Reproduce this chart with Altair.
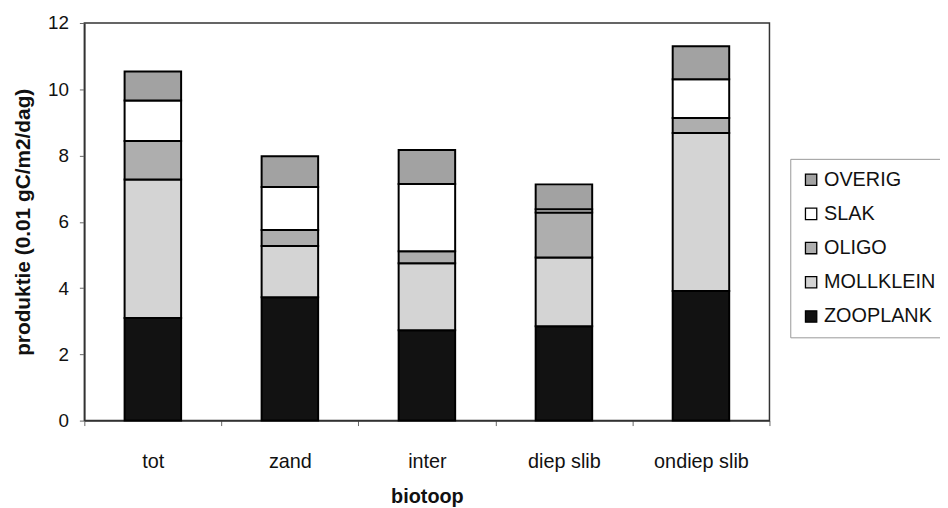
import altair as alt
import pandas as pd

biotopes = ["tot", "zand", "inter", "diep slib", "ondiep slib"]
groups = ["ZOOPLANK", "MOLLKLEIN", "OLIGO", "SLAK", "OVERIG"]  # bottom -> top
zooplank = [3.10, 3.72, 2.73, 2.85, 3.91]
mollklein = [4.18, 1.55, 2.02, 2.07, 4.77]
oligo = [1.16, 0.48, 0.36, 1.36, 0.45]
slak = [1.22, 1.30, 2.03, 0.10, 1.17]
overig = [0.88, 0.93, 1.03, 0.75, 1.00]

legend_order = ["OVERIG", "SLAK", "OLIGO", "MOLLKLEIN", "ZOOPLANK"]
fills = ["#a2a2a2", "#ffffff", "#aeaeae", "#d4d4d4", "#121212"]

series = {"ZOOPLANK": zooplank, "MOLLKLEIN": mollklein, "OLIGO": oligo,
          "SLAK": slak, "OVERIG": overig}
rows = []
for gi, g in enumerate(groups):
    for bi, b in enumerate(biotopes):
        rows.append({"biotoop": b, "groep": g, "waarde": series[g][bi], "volg": gi})
df = pd.DataFrame(rows)

FONT = "Liberation Sans"

chart = alt.Chart(df).mark_bar(size=57, stroke="#000000", strokeWidth=2).encode(
    x=alt.X("biotoop:N", sort=biotopes, title="biotoop",
            scale=alt.Scale(paddingInner=0, paddingOuter=0),
            axis=alt.Axis(labelAngle=0, tickBand="extent", labelFontSize=20,
                          titleFontSize=20, titleFontWeight="bold", labelPadding=26,
                          titlePadding=16, tickSize=5, tickColor="#666666",
                          domainColor="#333333", domainWidth=1.5, labelColor="#111111",
                          titleColor="#111111")),
    y=alt.Y("waarde:Q", stack="zero", title="produktie (0.01 gC/m2/dag)",
            scale=alt.Scale(domain=[0, 12], nice=False),
            axis=alt.Axis(values=[0, 2, 4, 6, 8, 10, 12], grid=False, labelFontSize=19,
                          titleFontSize=21, titleFontWeight="bold", tickSize=5,
                          tickColor="#666666", domainColor="#333333", domainWidth=1.5,
                          labelPadding=11, titlePadding=14, labelColor="#111111",
                          titleColor="#111111")),
    color=alt.Color("groep:N", scale=alt.Scale(domain=legend_order, range=fills),
                    legend=alt.Legend(title=None, orient="none", legendX=712, legendY=137,
                                      symbolType="square", symbolSize=130,
                                      symbolStrokeColor="#000000", symbolStrokeWidth=1.3,
                                      symbolOpacity=1, labelFontSize=20, labelColor="#111111",
                                      labelExpr="datum.label + '\u00a0\u00a0\u00a0'",
                                      rowPadding=14.5, padding=11, labelOffset=3,
                                      strokeColor="#999999", fillColor="#ffffff")),
    order=alt.Order("volg:Q", sort="ascending"),
).properties(
    width=691, height=401,
    autosize=alt.AutoSizeParams(type="none"),
    padding={"left": 77, "top": 13, "right": 172, "bottom": 86},
).configure(font=FONT).configure_view(stroke="#333333", strokeWidth=1.5)

chart.save("out.html", embed_options={"renderer": "svg", "actions": False})
